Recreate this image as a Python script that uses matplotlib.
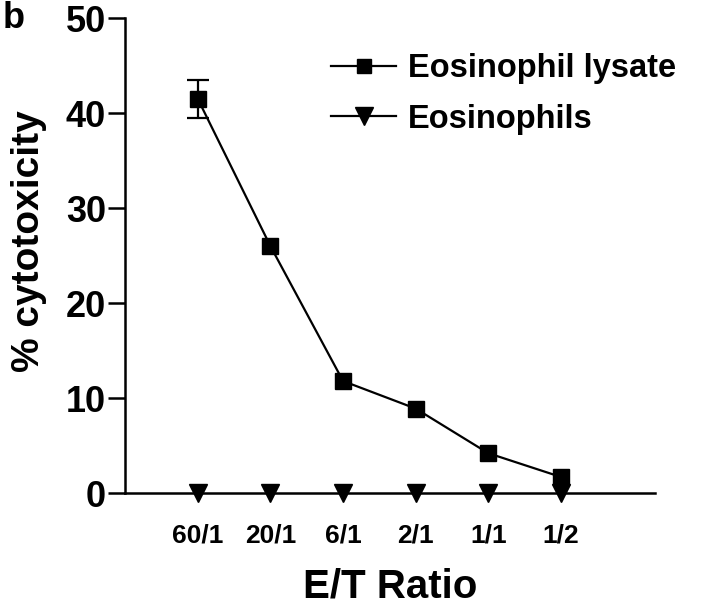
import matplotlib
matplotlib.use("Agg")
import matplotlib.pyplot as plt
from matplotlib.lines import Line2D

ratios = ["60/1", "20/1", "6/1", "2/1", "1/1", "1/2"]
lysate = [41.5, 26.0, 11.8, 8.9, 4.2, 1.7]
lysate_err = [2.0, 0, 0, 0, 0, 0]
eosinophils = [0, 0, 0, 0, 0, 0]

plt.rcParams['font.family'] = ['Liberation Sans', 'DejaVu Sans']
plt.rcParams['font.weight'] = 'bold'

fig = plt.figure(figsize=(7.2, 6.11), dpi=100)
ax = fig.add_axes([0.174, 0.193, 0.736, 0.777])

x = list(range(len(ratios)))
ax.plot(x, lysate, color='black', marker='s', markersize=11, linewidth=1.6,
        clip_on=False, zorder=3)
# only the first point has a visible error bar
ex = [xi for xi, e in zip(x, lysate_err) if e > 0]
ey = [yi for yi, e in zip(lysate, lysate_err) if e > 0]
ee = [e for e in lysate_err if e > 0]
ax.errorbar(ex, ey, yerr=ee, color='black', linestyle='none', capsize=8,
            capthick=1.6, elinewidth=1.6, zorder=2)
ax.plot(x, eosinophils, color='black', marker='v', markersize=13, linestyle='none',
        clip_on=False, zorder=4)

ax.set_xlim(-1, 6.3)
ax.set_ylim(0, 50)
ax.set_yticks([0, 10, 20, 30, 40, 50])
ax.set_xticks(x)
ax.set_xticklabels(ratios, fontsize=19, fontweight='bold')
ax.tick_params(axis='y', labelsize=26, length=12, width=1.8, direction='out', pad=2)
ax.tick_params(axis='x', length=0, pad=22)
for lab in ax.get_yticklabels():
    lab.set_fontweight('bold')

ax.spines['top'].set_visible(False)
ax.spines['right'].set_visible(False)
ax.spines['left'].set_linewidth(1.8)
ax.spines['bottom'].set_linewidth(1.8)

ax.set_xlabel('E/T Ratio', fontsize=29, fontweight='bold', labelpad=14)
ax.set_ylabel('% cytotoxicity', fontsize=28, fontweight='bold')
ax.yaxis.set_label_coords(-0.148, 0.53)

handles = [Line2D([], [], color='black', marker='s', markersize=10, linewidth=1.6),
           Line2D([], [], color='black', marker='v', markersize=13, linewidth=1.6)]
ax.legend(handles, ['Eosinophil lysate', 'Eosinophils'], loc='upper left',
          bbox_to_anchor=(0.345, 0.975), frameon=False,
          handlelength=2.0, labelspacing=0.6, handletextpad=0.35, borderpad=0.2,
          prop={'weight': 'bold', 'size': 23.5})

fig.text(0.003, 0.998, 'b', fontsize=26, fontweight='bold', va='top')

fig.savefig('out.png', dpi=100)
